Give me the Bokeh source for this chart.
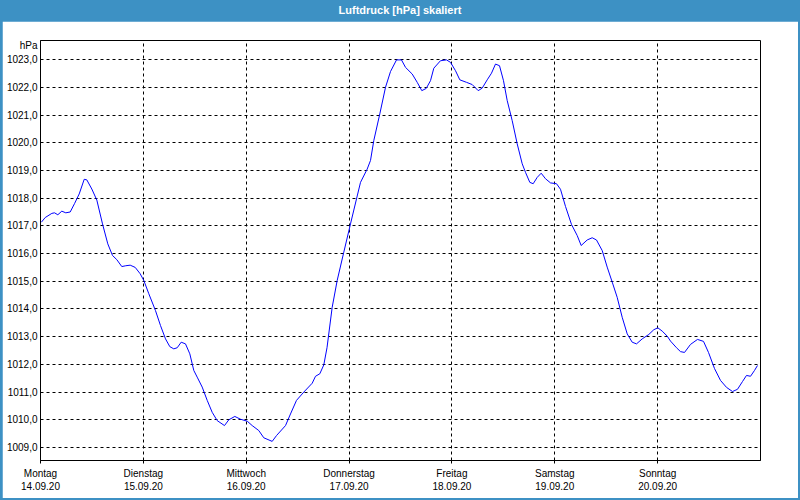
from bokeh.plotting import figure
from bokeh.models import Div, FixedTicker, Range1d
from bokeh.layouts import column
from bokeh.embed import file_html
from bokeh.resources import INLINE

TITLE = "Luftdruck [hPa] skaliert"
UNIT = "hPa"

# hours since Monday 14.09.20 00:00
hours = [0.2, 1.1, 2.64, 3.27, 4.04, 4.97, 5.9, 6.93, 7.93, 9.03, 10.2, 10.8, 11.97, 13.14,
         14.47, 15.7, 16.8, 17.8, 18.97, 19.9, 20.93, 22.1, 23.26, 24.1, 25.27, 26.83, 28.0,
         29.17, 30.17, 31.1, 31.9, 32.83, 33.83, 34.84, 35.77, 36.56, 37.73, 38.9, 40.06,
         41.23, 42.93, 43.94, 45.34, 46.67, 48.23, 49.4, 50.94, 52.1, 54.06, 55.07, 57.17,
         58.33, 59.73, 61.44, 63.4, 64.17, 65.17, 66.1, 66.85, 68.06, 69.23, 70.77, 72.33,
         73.73, 74.67, 76.23, 77.0, 77.77, 79.17, 80.5, 81.67, 83.07, 84.23, 85.17, 86.73,
         87.9, 88.97, 90.0, 91.0, 91.77, 93.33, 94.73, 95.67, 96.83, 97.84, 99.4, 100.73,
         102.13, 103.06, 104.23, 105.23, 106.17, 107.1, 108.03, 108.9, 110.06, 111.23, 112.4,
         113.17, 114.17, 114.96, 115.9, 116.83, 117.83, 119.0, 120.4, 121.33, 122.5, 123.9,
         125.23, 126.16, 127.56, 128.73, 129.73, 131.06, 132.23, 133.4, 134.56, 135.73, 136.9,
         138.06, 139.07, 140.4, 141.94, 143.1, 144.04, 145.06, 146.23, 147.0, 148.4, 149.33,
         150.27, 151.67, 153.3, 154.7, 155.87, 157.27, 158.67, 160.07, 161.47, 162.63, 163.8,
         164.73, 165.67, 166.6, 167.3]

pressure = [1017.13, 1017.30, 1017.45, 1017.47, 1017.40, 1017.53, 1017.47, 1017.50, 1017.80,
            1018.15, 1018.68, 1018.66, 1018.33, 1017.93, 1017.07, 1016.35, 1015.93, 1015.78,
            1015.53, 1015.56, 1015.58, 1015.50, 1015.27, 1015.03, 1014.55, 1013.94, 1013.40,
            1012.92, 1012.64, 1012.56, 1012.60, 1012.80, 1012.74, 1012.38, 1011.78, 1011.54,
            1011.18, 1010.70, 1010.27, 1009.97, 1009.79, 1010.00, 1010.12, 1010.02, 1009.95,
            1009.79, 1009.61, 1009.35, 1009.22, 1009.43, 1009.79, 1010.21, 1010.70, 1011.00,
            1011.32, 1011.57, 1011.66, 1011.98, 1012.60, 1014.06, 1015.03, 1016.05, 1017.07,
            1017.97, 1018.57, 1019.05, 1019.36, 1020.08, 1021.04, 1022.00, 1022.57, 1022.99,
            1022.99, 1022.72, 1022.48, 1022.18, 1021.88, 1021.96, 1022.24, 1022.69, 1022.96,
            1022.99, 1022.90, 1022.60, 1022.27, 1022.18, 1022.10, 1021.88, 1021.97, 1022.27,
            1022.51, 1022.84, 1022.78, 1022.24, 1021.52, 1020.80, 1019.96, 1019.24, 1018.93,
            1018.57, 1018.52, 1018.75, 1018.90, 1018.70, 1018.55, 1018.52, 1018.32, 1017.70,
            1017.05, 1016.65, 1016.29, 1016.49, 1016.57, 1016.49, 1016.11, 1015.51, 1014.97,
            1014.42, 1013.70, 1013.10, 1012.80, 1012.74, 1012.92, 1013.08, 1013.25, 1013.32,
            1013.20, 1013.02, 1012.84, 1012.60, 1012.46, 1012.43, 1012.72, 1012.90, 1012.83,
            1012.43, 1011.85, 1011.42, 1011.17, 1011.02, 1011.10, 1011.38, 1011.60, 1011.57,
            1011.78, 1011.96]

day_ticks = [0, 24, 48, 72, 96, 120, 144]
day_names = ["Montag", "Dienstag", "Mittwoch", "Donnerstag", "Freitag", "Samstag", "Sonntag"]
day_dates = ["14.09.20", "15.09.20", "16.09.20", "17.09.20", "18.09.20", "19.09.20", "20.09.20"]
y_ticks = list(range(1009, 1024))
unit_pos = 1023.5

BLUE = "#3d91c4"
FONT = "Liberation Sans"

p = figure(width=796, height=477, output_backend="svg", toolbar_location=None,
           x_range=Range1d(0, 168), y_range=Range1d(1008.53, 1023.69),
           min_border_left=38, min_border_right=38, min_border_top=19, min_border_bottom=38,
           background_fill_color="white", border_fill_color="white",
           outline_line_color="black", outline_line_width=1, margin=(0, 2, 2, 2))

p.line(hours, pressure, line_color="#0000ff", line_width=1)

p.xaxis.ticker = FixedTicker(ticks=day_ticks)
p.xaxis.major_label_overrides = {t: f"{n}\n{d}" for t, n, d in zip(day_ticks, day_names, day_dates)}
p.yaxis.ticker = FixedTicker(ticks=y_ticks + [unit_pos])
overrides = {t: f"{t},0" for t in y_ticks}
overrides[unit_pos] = UNIT
p.yaxis.major_label_overrides = overrides

for ax in (p.xaxis, p.yaxis):
    ax.axis_line_color = "black"
    ax.minor_tick_line_color = None
    ax.major_tick_in = 0
    ax.major_label_text_font = FONT
    ax.major_label_text_font_size = "10px"
    ax.major_label_text_color = "black"
    ax.major_tick_line_color = "black"
p.xaxis.major_tick_out = 3
p.xaxis.major_label_standoff = 4
p.yaxis.major_tick_out = 0
p.yaxis.major_label_standoff = 3

p.xgrid.ticker = FixedTicker(ticks=day_ticks)
p.ygrid.ticker = FixedTicker(ticks=y_ticks)
for g in (p.xgrid, p.ygrid):
    g.grid_line_color = "black"
    g.grid_line_dash = "3 3"
    g.grid_line_width = 1

div = Div(text=TITLE, width=800, height=21, margin=0,
          styles={"background-color": BLUE, "color": "white", "font-weight": "bold",
                  "font-family": FONT, "font-size": "11px", "text-align": "center",
                  "line-height": "21px"})

layout = column(div, p, spacing=0, margin=0, styles={"background-color": BLUE})

open("out.html", "w").write(file_html(layout, INLINE))
